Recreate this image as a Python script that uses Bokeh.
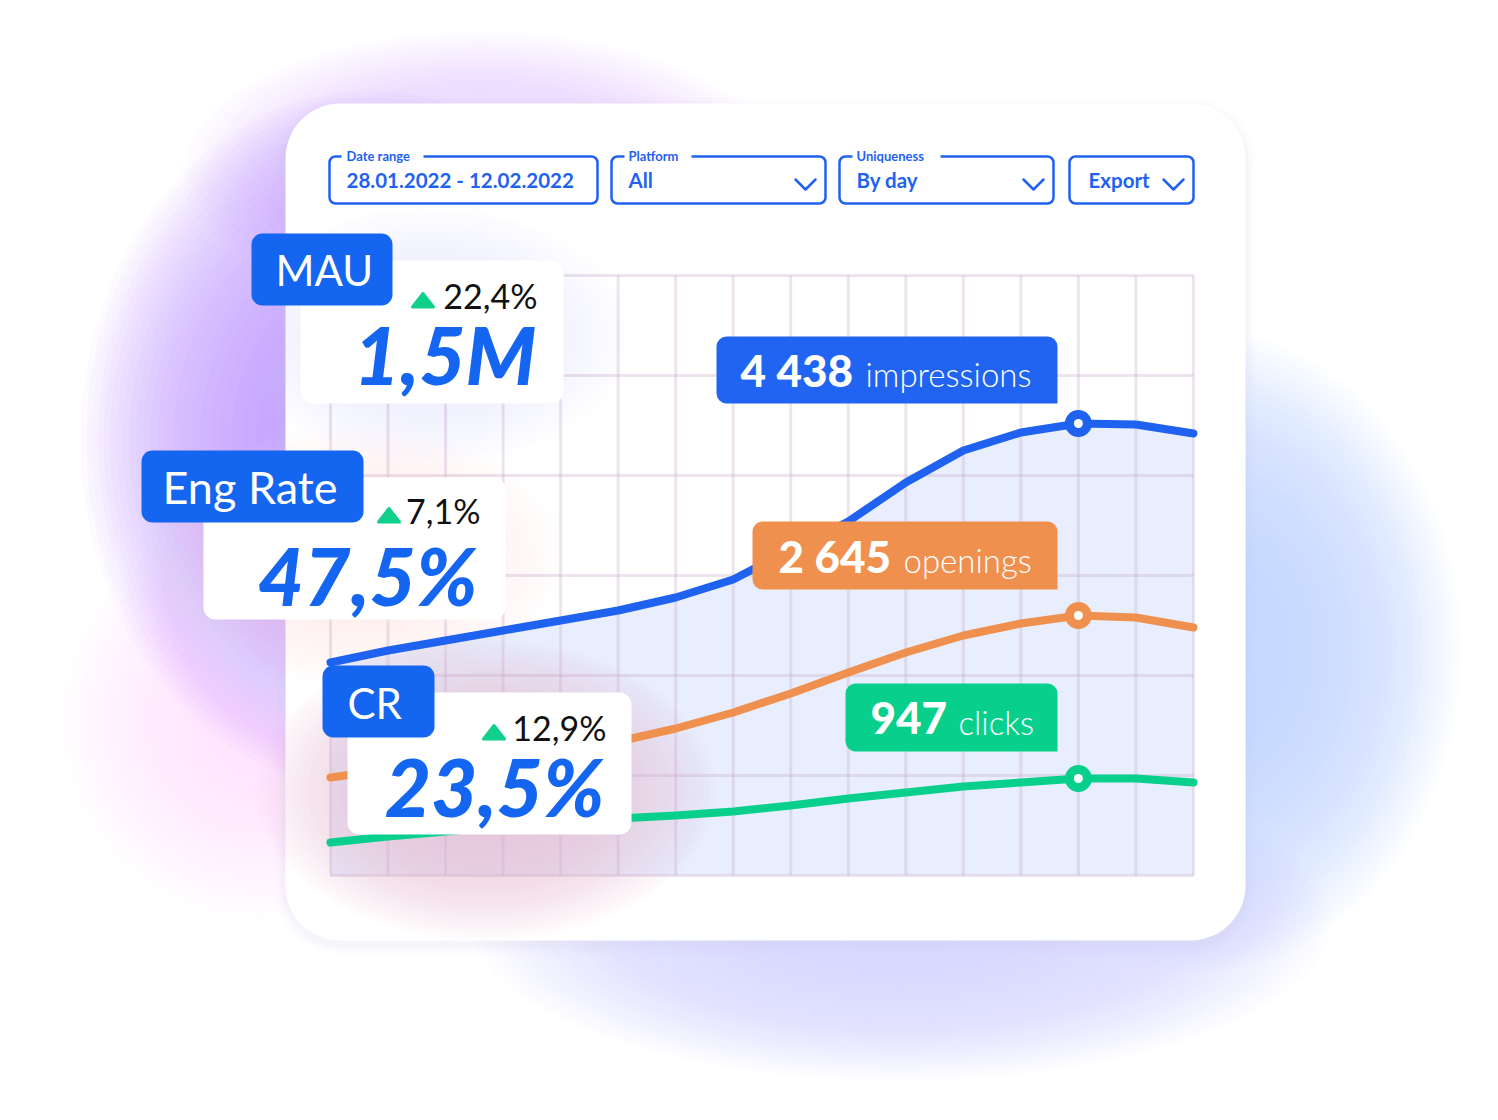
import numpy as np
from bokeh.plotting import figure
from bokeh.models import Range1d
from bokeh.core.properties import value
from bokeh.embed import file_html
from bokeh.resources import INLINE

# ---------------- data ----------------
day_index = list(range(16))  # 28.01.2022 ... 12.02.2022
impressions = [2130, 2250, 2350, 2450, 2550, 2650, 2780, 2960, 3260, 3540, 3930, 4250, 4430, 4520, 4510, 4420]
openings = [980, 1060, 1130, 1200, 1270, 1340, 1470, 1630, 1820, 2030, 2230, 2400, 2520, 2600, 2580, 2480]
clicks = [330, 390, 440, 490, 530, 570, 600, 640, 700, 770, 830, 890, 930, 970, 970, 930]
peak_day = 13
grid_values = [0, 1000, 2000, 3000, 4000, 5000, 6000]

series_numbers = ["4 438", "2 645", "947"]
series_names = ["impressions", "openings", "clicks"]

kpi_names = ["MAU", "Eng Rate", "CR"]
kpi_values = ["1,5M", "47,5%", "23,5%"]
kpi_changes = ["22,4%", "7,1%", "12,9%"]

filter_labels = ["Date range", "Platform", "Uniqueness"]
filter_values = ["28.01.2022 - 12.02.2022", "All", "By day"]
export_label = "Export"

# ---------------- styles ----------------
BLUE = "#1f62f0"
TAG_BLUE = "#1466f0"
ORANGE = "#f0904e"
GREEN = "#08d08c"
TRI_GREEN = "#10cf8a"
FILL = "#e8eefd"
W, H = 1498, 1120
X0, STEP = 330.0, 57.53
Y0 = 875.0  # pixel of value 0 ; 1000 units = 100 px
BASE_SHIFT = 0.37

p = figure(width=W, height=H, x_range=Range1d(0, W), y_range=Range1d(H, 0),
           output_backend="svg", toolbar_location=None, min_border=0,
           x_axis_location=None, y_axis_location=None)
p.grid.visible = False
p.outline_line_color = None
p.background_fill_color = "white"
p.border_fill_color = "white"
p.extra_x_ranges = {"day": Range1d(-X0 / STEP, (W - X0) / STEP)}
p.extra_y_ranges = {"val": Range1d(-(H - Y0) * 10, Y0 * 10)}
CH = dict(x_range_name="day", y_range_name="val")


def glow(cx, cy, rx, ry, color, alpha, n=26):
    k = np.arange(n)
    s = np.sqrt(1 - k / n)
    p.ellipse(x=[cx] * n, y=[cy] * n, width=list(2 * rx * s), height=list(2 * ry * s),
              fill_color=color, fill_alpha=alpha, line_color=None)


def txt(x, y, s, size, color, style="normal", font="Lato", align="left"):
    y_adj = y - BASE_SHIFT * size
    p.text(x=[x], y=[y_adj], text=[s], text_font=value(font), text_font_size=f"{size}px",
           text_font_style=style, text_color=color, text_align=align, text_baseline="alphabetic")


def box(l, r, t, b, color, radius=0, alpha=1.0, line_color=None, line_width=1):
    p.quad(left=[l], right=[r], top=[t], bottom=[b], fill_color=color, fill_alpha=alpha,
           line_color=line_color, line_width=line_width, border_radius=radius)


# ---------------- background glows ----------------
glow(480, 170, 300, 140, "#e8cdf4", 0.03)
glow(370, 440, 290, 350, "#a47cf4", 0.036)
glow(260, 720, 200, 200, "#eac4ee", 0.02)
glow(1200, 650, 260, 320, "#b3bdf7", 0.034)
glow(900, 920, 430, 160, "#b9c6f8", 0.036)

# ---------------- main card ----------------
for d, a in [(10, 0.05), (6, 0.06), (3, 0.08)]:
    box(285 - d, 1245 + d, 103 - d + 4, 940 + d + 4, "#cfcbe2", radius=55 + d, alpha=a)
box(285, 1245, 103, 940, "white", radius=55)

# ---------------- filters ----------------
filter_boxes = [(329, 597), (611, 825), (839, 1053)]
label_gaps = [(341, 423), (624, 691), (852, 940)]
for (l, r), (gl, gr), lab, val in zip(filter_boxes, label_gaps, filter_labels, filter_values):
    box(l, r, 156, 203, "white", radius=6, line_color=BLUE, line_width=2.5)
    box(gl, gr, 148, 163, "white")
    txt(l + 17, 160, lab, 13, BLUE, style="bold")
    txt(l + 17, 187, val, 20.5, BLUE, style="bold")
for l, r in filter_boxes[1:]:
    cx = r - 20
    p.line(x=[cx - 10, cx, cx + 10], y=[179, 189, 179], line_color=BLUE, line_width=2.5,
           line_cap="round", line_join="round")
box(1069, 1193, 156, 203, "white", radius=6, line_color=BLUE, line_width=2.5)
txt(1088, 187, export_label, 20.5, BLUE, style="bold")
p.line(x=[1163, 1173, 1183], y=[179, 189, 179], line_color=BLUE, line_width=2.5,
       line_cap="round", line_join="round")

# ---------------- chart ----------------
p.varea(x=day_index, y1=[0] * len(day_index), y2=impressions, fill_color=FILL, **CH)
p.segment(x0=day_index, y0=[grid_values[0]] * 16, x1=day_index, y1=[grid_values[-1]] * 16,
          line_color="#c4a6c8", line_alpha=0.3, line_width=3, **CH)
p.segment(x0=[day_index[0]] * 7, y0=grid_values, x1=[day_index[-1]] * 7, y1=grid_values,
          line_color="#c4a6c8", line_alpha=0.3, line_width=3, **CH)

# KPI card glows over chart
glow(430, 335, 200, 130, "#cfc3f5", 0.025, n=20)
glow(355, 555, 210, 130, "#eecbea", 0.028, n=20)
glow(485, 790, 230, 150, "#eab8d8", 0.04, n=20)

for ser, col in [(clicks, GREEN), (openings, ORANGE), (impressions, BLUE)]:
    p.line(x=day_index, y=ser, line_color=col, line_width=8, line_cap="round",
           line_join="round", **CH)
    p.scatter(x=[day_index[peak_day]], y=[ser[peak_day]], size=27, marker="circle",
              fill_color=col, line_color=None, **CH)
    p.scatter(x=[day_index[peak_day]], y=[ser[peak_day]], size=9, marker="circle",
              fill_color="white", line_color=None, **CH)

# series labels
label_boxes = [(716, 336, 403, "#2264f2", 740, 865),
               (752, 521, 589, ORANGE, 778, 903),
               (845, 683, 751, GREEN, 870, 958)]
for (l, t, b, col, xn, xl), num, name in zip(label_boxes, series_numbers, series_names):
    box(l, 1057, t, b, col, radius=(10, 10, 0, 10))
    txt(xn, b - 17, num, 44, "white", style="bold", font="Lato Black")
    txt(xl, b - 17, name, 33, "white", font="Lato Light")

# ---------------- KPI cards ----------------
kpi_layout = [
    # tag box, tag text pos + size, card box, change right/baseline, tri x, value right/baseline
    ((251, 392, 233, 305), (275, 285, 42), (300, 563, 260, 403), (537, 308), 410, (536, 383)),
    ((141, 363, 450, 522), (162, 503, 45), (203, 505, 477, 619), (480, 523), 376, (477, 604)),
    ((322, 434, 665, 737), (347, 718, 42), (347, 631, 692, 834), (606, 740), 481, (604, 815)),
]
for (tg, tp, cd, ch, tx, vp), name, val, chg in zip(kpi_layout, kpi_names, kpi_values, kpi_changes):
    box(cd[0], cd[1], cd[2], cd[3], "white", radius=12)
    box(tg[0], tg[1], tg[2], tg[3], TAG_BLUE, radius=11)
    txt(tp[0], tp[1], name, tp[2], "white", font="Lato")
    base = ch[1]
    p.patch(x=[tx + 2, tx + 12.5, tx + 23], y=[base - 1.5, base - 15, base - 1.5],
            fill_color=TRI_GREEN, line_color=TRI_GREEN, line_width=3, line_join="round")
    txt(ch[0], ch[1], chg, 34, "#111111", align="right")
    txt(vp[0], vp[1], val, 80, TAG_BLUE, style="bold italic", font="Lato Black", align="right")

open("out.html", "w").write(file_html(p, INLINE))
